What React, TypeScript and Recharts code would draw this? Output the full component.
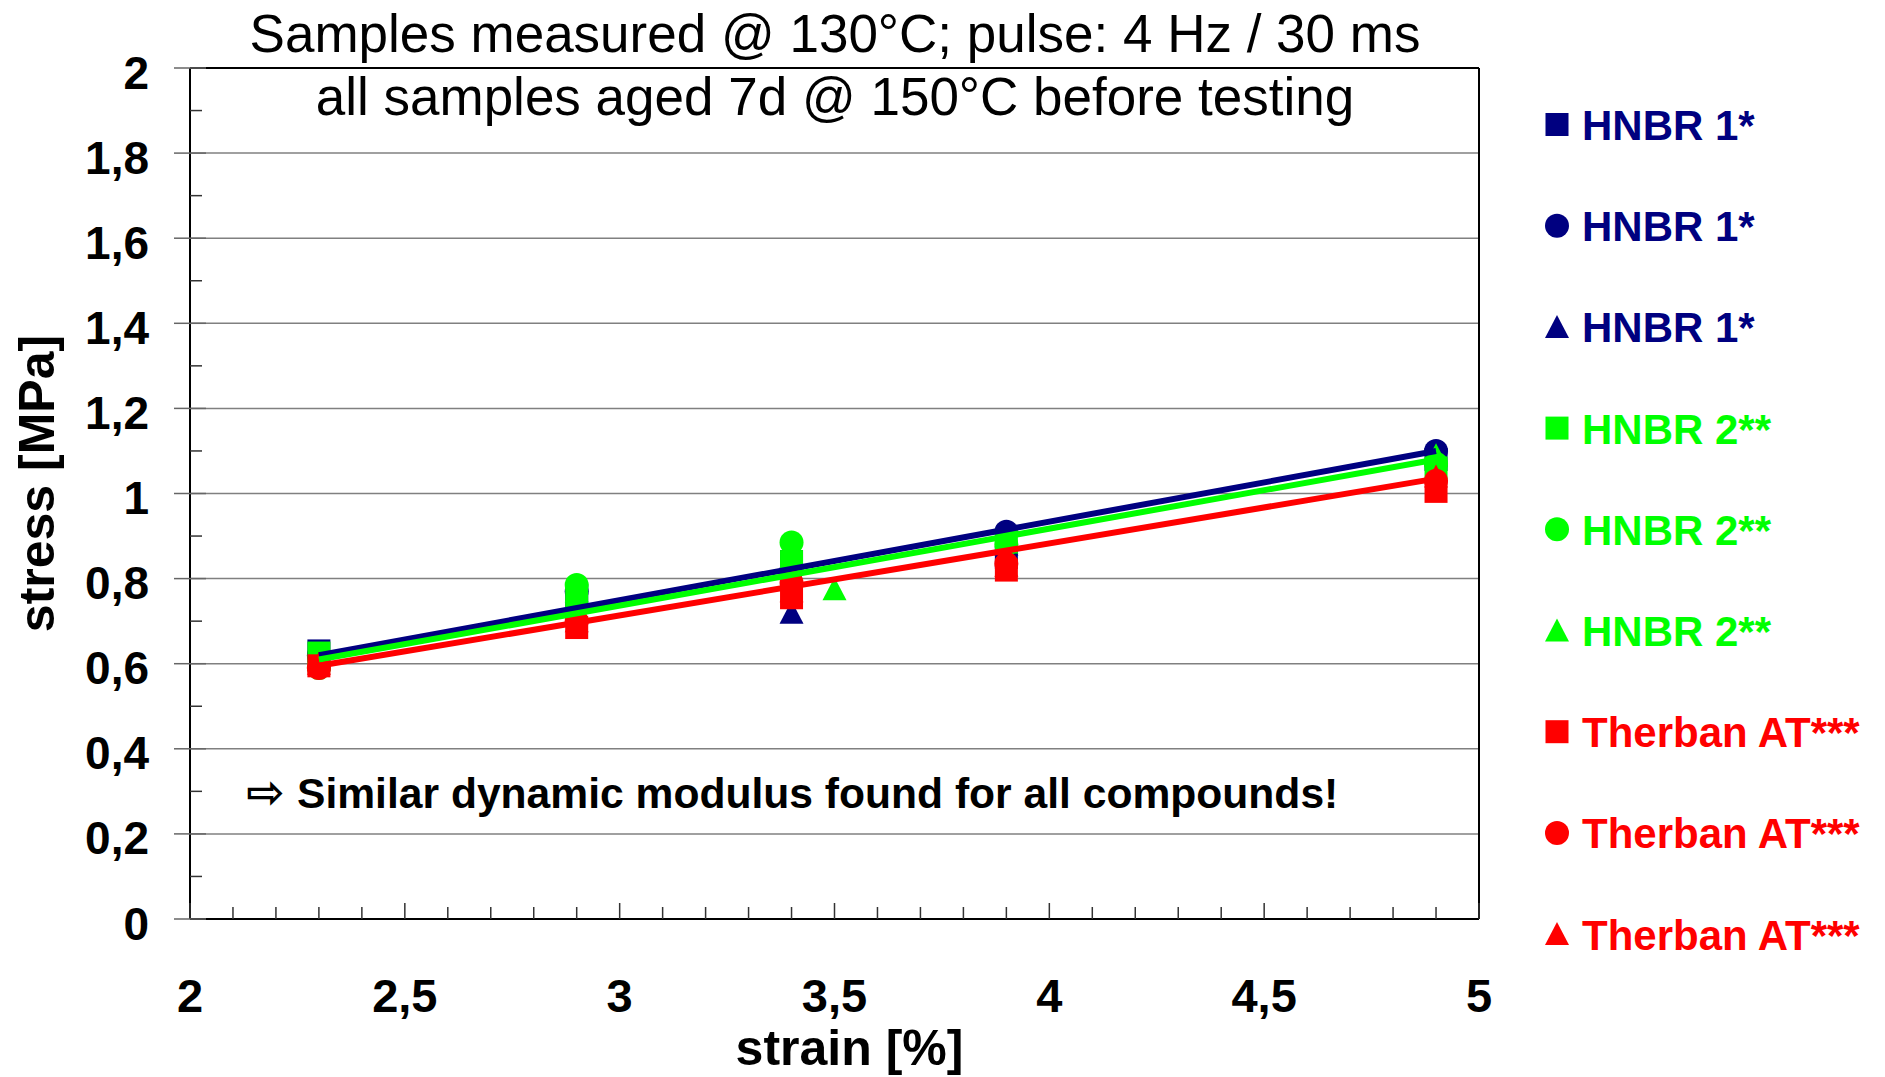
import { CartesianGrid, Customized, ReferenceLine, Scatter, ScatterChart, XAxis, YAxis } from 'recharts'

const NAVY = '#000080'
const GREEN = '#00ff00'
const RED = '#ff0000'

// axis ticks (minor every 0.1, labels on the majors)
const X_TICKS = [2, 2.1, 2.2, 2.3, 2.4, 2.5, 2.6, 2.7, 2.8, 2.9, 3, 3.1, 3.2, 3.3, 3.4, 3.5, 3.6, 3.7, 3.8, 3.9, 4, 4.1, 4.2, 4.3, 4.4, 4.5, 4.6, 4.7, 4.8, 4.9, 5]
const Y_TICKS = [0, 0.1, 0.2, 0.3, 0.4, 0.5, 0.6, 0.7, 0.8, 0.9, 1, 1.1, 1.2, 1.3, 1.4, 1.5, 1.6, 1.7, 1.8, 1.9, 2]
const GRID_Y = [0.2, 0.4, 0.6, 0.8, 1, 1.2, 1.4, 1.6, 1.8]

// measured points, strain [%] vs stress [MPa]
const hnbr1Square = [{ x: 2.3, y: 0.63 }, { x: 2.9, y: 0.76 }, { x: 3.4, y: 0.84 }, { x: 3.9, y: 0.85 }, { x: 4.9, y: 1.08 }]
const hnbr1Circle = [{ x: 2.3, y: 0.62 }, { x: 2.9, y: 0.77 }, { x: 3.4, y: 0.82 }, { x: 3.9, y: 0.91 }, { x: 4.9, y: 1.1 }]
const hnbr1Triangle = [{ x: 2.3, y: 0.61 }, { x: 2.9, y: 0.75 }, { x: 3.4, y: 0.72 }, { x: 3.9, y: 0.88 }, { x: 4.9, y: 1.09 }]
const hnbr2Square = [{ x: 2.3, y: 0.625 }, { x: 2.9, y: 0.76 }, { x: 3.4, y: 0.84 }, { x: 3.9, y: 0.89 }, { x: 4.9, y: 1.06 }]
const hnbr2Circle = [{ x: 2.3, y: 0.59 }, { x: 2.9, y: 0.785 }, { x: 3.4, y: 0.885 }, { x: 3.9, y: 0.88 }, { x: 4.9, y: 1.07 }]
const hnbr2Triangle = [{ x: 2.3, y: 0.615 }, { x: 2.9, y: 0.77 }, { x: 3.5, y: 0.775 }, { x: 3.9, y: 0.885 }, { x: 4.9, y: 1.09 }]
const therbanSquare = [{ x: 2.3, y: 0.595 }, { x: 2.9, y: 0.685 }, { x: 3.4, y: 0.755 }, { x: 3.9, y: 0.82 }, { x: 4.9, y: 1.005 }]
const therbanCircle = [{ x: 2.3, y: 0.59 }, { x: 2.9, y: 0.7 }, { x: 3.4, y: 0.79 }, { x: 3.9, y: 0.835 }, { x: 4.9, y: 1.03 }]
const therbanTriangle = [{ x: 2.3, y: 0.6 }, { x: 2.9, y: 0.7 }, { x: 3.4, y: 0.77 }, { x: 3.9, y: 0.83 }, { x: 4.9, y: 1.04 }]

// linear trend lines
const trendHnbr1 = [{ x: 2.3, y: 0.62 }, { x: 4.9, y: 1.1 }]
const trendHnbr2 = [{ x: 2.3, y: 0.61 }, { x: 4.9, y: 1.08 }]
const trendTherban = [{ x: 2.3, y: 0.595 }, { x: 4.9, y: 1.035 }]

type Kind = 'square' | 'circle' | 'triangle'

const SERIES: { name: string; color: string; kind: Kind; data: { x: number; y: number }[] }[] = [
  { name: 'HNBR 1*', color: NAVY, kind: 'square', data: hnbr1Square },
  { name: 'HNBR 1*', color: NAVY, kind: 'circle', data: hnbr1Circle },
  { name: 'HNBR 1*', color: NAVY, kind: 'triangle', data: hnbr1Triangle },
  { name: 'HNBR 2**', color: GREEN, kind: 'square', data: hnbr2Square },
  { name: 'HNBR 2**', color: GREEN, kind: 'circle', data: hnbr2Circle },
  { name: 'HNBR 2**', color: GREEN, kind: 'triangle', data: hnbr2Triangle },
  { name: 'Therban AT***', color: RED, kind: 'square', data: therbanSquare },
  { name: 'Therban AT***', color: RED, kind: 'circle', data: therbanCircle },
  { name: 'Therban AT***', color: RED, kind: 'triangle', data: therbanTriangle },
]

const TRENDS = [
  { color: NAVY, data: trendHnbr1 },
  { color: GREEN, data: trendHnbr2 },
  { color: RED, data: trendTherban },
]

const fmt = (v: number) => String(Math.round(v * 10) / 10).replace('.', ',')

function Marker({ kind, cx, cy, fill }: { kind: Kind; cx: number; cy: number; fill: string }) {
  if (kind === 'square') return <rect x={cx - 11.5} y={cy - 11.5} width={23} height={23} fill={fill} />
  if (kind === 'circle') return <circle cx={cx} cy={cy} r={12} fill={fill} />
  return <polygon points={`${cx},${cy - 12} ${cx + 12},${cy + 11} ${cx - 12},${cy + 11}`} fill={fill} />
}

const Y_TICK_SIZE = 16
const Y_TICK_MARGIN = 25

function XTick(props: any) {
  const { x, y, payload } = props
  const v = payload.value
  const major = Math.round(v * 10) % 5 === 0
  return (
    <g>
      <line x1={x} x2={x} y1={y} y2={y - (major ? 16 : 12)} stroke="#333" strokeWidth={1.5} />
      {major && (
        <text x={x} y={y + 76} dy="0.36em" textAnchor="middle" fontSize={47} fontWeight="bold" fill="#000">
          {fmt(v)}
        </text>
      )}
    </g>
  )
}

function YTick(props: any) {
  const { x, y, payload } = props
  const v = payload.value
  const major = Math.round(v * 10) % 2 === 0
  const axisX = x + Y_TICK_SIZE + Y_TICK_MARGIN
  return (
    <g>
      {major ? (
        <line x1={axisX - 16} x2={axisX + 16} y1={y} y2={y} stroke="#666" strokeWidth={1.5} />
      ) : (
        <line x1={axisX} x2={axisX + 12} y1={y} y2={y} stroke="#333" strokeWidth={1.5} />
      )}
      {major && (
        <text x={x} y={y + 4} dy="0.36em" textAnchor="end" fontSize={46} fontWeight="bold" fill="#000">
          {fmt(v)}
        </text>
      )}
    </g>
  )
}

function XTitle(props: any) {
  const vb = props.viewBox
  return (
    <text x={vb.x + vb.width / 2 + 15} y={vb.y + vb.height - 12} textAnchor="middle" fontSize={50} fontWeight="bold" fill="#000">
      strain [%]
    </text>
  )
}

function YTitle(props: any) {
  const vb = props.viewBox
  const x = vb.x + 36
  const y = vb.y + vb.height / 2 - 10
  return (
    <text x={x} y={y} dy="0.35em" transform={`rotate(-90, ${x}, ${y})`} textAnchor="middle" fontSize={50} fontWeight="bold" fill="#000">
      stress [MPa]
    </text>
  )
}

function Overlay() {
  return (
    <g>
      <text x={835} y={52} textAnchor="middle" fontSize={53} fill="#000">
        Samples measured @ 130°C; pulse: 4 Hz / 30 ms
      </text>
      <text x={835} y={115} textAnchor="middle" fontSize={53} fill="#000">
        all samples aged 7d @ 150°C before testing
      </text>
      <text x={246} y={808} fontSize={46} fontWeight="bold" fill="#000">
        ⇨
      </text>
      <text x={297} y={808} fontSize={42.6} fontWeight="bold" fill="#000">
        Similar dynamic modulus found for all compounds!
      </text>
      {SERIES.map((s, i) => {
        const cy = 124.5 + i * 101.2
        return (
          <g key={i}>
            <Marker kind={s.kind} cx={1557} cy={cy} fill={s.color} />
            <text x={1582} y={cy + 15.5} fontSize={42} fontWeight="bold" fill={s.color}>
              {s.name}
            </text>
          </g>
        )
      })}
    </g>
  )
}

export default function App() {
  return (
    <div
      style={{
        position: 'absolute',
        left: 0,
        top: 0,
        width: 1885,
        height: 1077,
        background: '#fff',
        fontFamily: '"Liberation Sans", Arial, "DejaVu Sans", sans-serif',
      }}
    >
      <ScatterChart width={1885} height={1077} margin={{ top: 68, right: 406, bottom: 0, left: 0 }}>
        <CartesianGrid horizontal vertical={false} horizontalValues={GRID_Y} stroke="#808080" strokeWidth={1.5} />
        <XAxis
          type="number"
          dataKey="x"
          domain={[2, 5]}
          ticks={X_TICKS}
          interval={0}
          allowDataOverflow
          height={158}
          tickSize={0}
          tickMargin={0}
          tickLine={false}
          axisLine={{ stroke: '#000', strokeWidth: 2 }}
          tick={(p: any) => <XTick {...p} />}
          label={XTitle}
        />
        <YAxis
          type="number"
          dataKey="y"
          domain={[0, 2]}
          ticks={Y_TICKS}
          interval={0}
          allowDataOverflow
          width={190}
          tickSize={Y_TICK_SIZE}
          tickMargin={Y_TICK_MARGIN}
          tickLine={false}
          axisLine={{ stroke: '#000', strokeWidth: 2 }}
          tick={(p: any) => <YTick {...p} />}
          label={YTitle}
        />
        <ReferenceLine y={2} stroke="#000" strokeWidth={2} />
        <ReferenceLine x={5} stroke="#000" strokeWidth={2} />
        {SERIES.map((s, i) => (
          <Scatter
            key={'s' + i}
            name={s.name}
            data={s.data}
            fill={s.color}
            isAnimationActive={false}
            shape={(p: any) => <Marker kind={s.kind} cx={p.cx} cy={p.cy} fill={s.color} />}
          />
        ))}
        {TRENDS.map((t, i) => (
          <Scatter
            key={'t' + i}
            data={t.data}
            fill={t.color}
            line={{ stroke: t.color, strokeWidth: 6 }}
            legendType="none"
            isAnimationActive={false}
            shape={() => <g />}
          />
        ))}
        <Customized component={<Overlay />} />
      </ScatterChart>
    </div>
  )
}
